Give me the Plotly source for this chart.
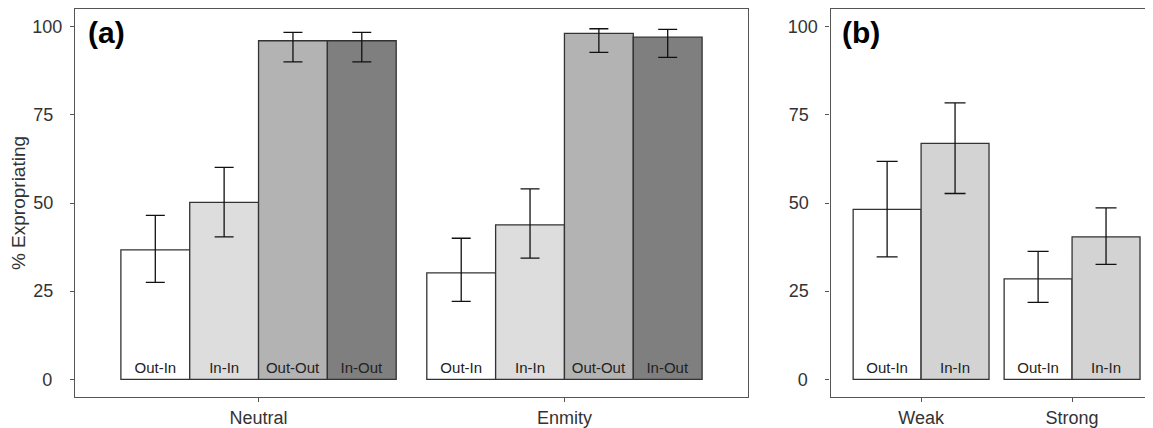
import plotly.graph_objects as go

# ---------------- data ----------------
groups_a = ["Neutral", "Enmity"]
conditions_a = ["Out-In", "In-In", "Out-Out", "In-Out"]
values_a = {
    "Out-In": [36.7, 30.2],
    "In-In": [50.2, 43.8],
    "Out-Out": [96.0, 98.1],
    "In-Out": [96.0, 97.0],
}
upper_a = {
    "Out-In": [46.5, 40.0],
    "In-In": [60.1, 54.0],
    "Out-Out": [98.4, 99.4],
    "In-Out": [98.4, 99.2],
}
lower_a = {
    "Out-In": [27.5, 22.1],
    "In-In": [40.4, 34.4],
    "Out-Out": [90.0, 92.7],
    "In-Out": [90.0, 91.3],
}

groups_b = ["Weak", "Strong"]
conditions_b = ["Out-In", "In-In"]
values_b = {
    "Out-In": [48.2, 28.5],
    "In-In": [66.9, 40.4],
}
upper_b = {
    "Out-In": [61.8, 36.3],
    "In-In": [78.4, 48.6],
}
lower_b = {
    "Out-In": [34.7, 21.8],
    "In-In": [52.7, 32.6],
}

y_ticks = [0, 25, 50, 75, 100]
y_title = "% Expropriating"
panel_labels = ["(a)", "(b)"]

# ---------------- styles ----------------
colors_a = {"Out-In": "#FFFFFF", "In-In": "#DDDDDD", "Out-Out": "#B3B3B3", "In-Out": "#7F7F7F"}
colors_b = {"Out-In": "#FFFFFF", "In-In": "#D3D3D3"}
FONT = "Liberation Sans, Arial, sans-serif"
FRAME = "#555555"
TXT = "#333333"

# the page body has an 8px default margin: shrink the figure to compensate
OFF = 8
W, H = 1153 - OFF, 428 - OFF
ML, MR, MT, MB = 0, 0, 8 - OFF, 428 - 398
dom_a = [(75 - OFF) / W, (748 - OFF) / W]
dom_b = [(830.5 - OFF) / W, 1.0]


def pad_label(s):
    # center-align tick labels (as in the reference) using fixed-width spaces
    n = len(s)
    if n == 1:
        return "\u2007" + s + "\u2007"
    if n == 2:
        return s + "\u2002"
    return s


fig = go.Figure()


def add_bars(groups, conditions, values, upper, lower, colors, xa, ya, capw):
    for c in conditions:
        v = values[c]
        up = [u - a for u, a in zip(upper[c], v)]
        lo = [a - l for a, l in zip(v, lower[c])]
        fig.add_trace(go.Bar(
            x=groups, y=v, name=c,
            xaxis=xa, yaxis=ya,
            marker=dict(color=colors[c], line=dict(color="#333333", width=1.3)),
            error_y=dict(type="data", array=up, arrayminus=lo, visible=True,
                         color="#111111", thickness=1.3, width=capw),
            text=[c] * len(groups),
            textposition="inside", insidetextanchor="start", textangle=0,
            textfont=dict(family=FONT, size=15, color="#222222"),
            constraintext="none",
            showlegend=False,
        ))


add_bars(groups_a, conditions_a, values_a, upper_a, lower_a, colors_a, "x", "y", 9.5)
add_bars(groups_b, conditions_b, values_b, upper_b, lower_b, colors_b, "x2", "y2", 10.5)

common_y = dict(
    range=[-5, 105], tickvals=y_ticks, ticktext=[pad_label(str(t)) for t in y_ticks],
    ticks="outside", ticklen=4, tickcolor=FRAME, tickwidth=1.2,
    showgrid=False, zeroline=False, showline=True, linecolor=FRAME, linewidth=1.3,
    tickfont=dict(family=FONT, size=18, color=TXT), ticklabelstandoff=4,
    domain=[0, 1],
)
common_x = dict(
    type="category",
    ticks="outside", ticklen=4, tickcolor=FRAME, tickwidth=1.2,
    showgrid=False, zeroline=False, showline=True, linecolor=FRAME, linewidth=1.3,
    mirror=True, tickfont=dict(family=FONT, size=18, color=TXT),
)

fig.update_layout(
    width=W, height=H,
    margin=dict(l=ML, r=MR, t=MT, b=MB, pad=0),
    paper_bgcolor="white", plot_bgcolor="white",
    barmode="group", bargap=0.1, bargroupgap=0,
    font=dict(family=FONT),
    xaxis=dict(common_x, domain=dom_a, anchor="y", range=[-0.6, 1.6]),
    yaxis=dict(common_y, anchor="x", mirror=True,
               title=dict(text=y_title, font=dict(family=FONT, size=19, color=TXT), standoff=2)),
    xaxis2=dict(common_x, domain=dom_b, anchor="y2", range=[-0.6, 1.536]),
    yaxis2=dict(common_y, anchor="x2", mirror=False),
    annotations=[
        dict(text="<b>" + panel_labels[0] + "</b>", xref="x domain", yref="y domain",
             x=0.016, y=0.9385, xanchor="left", yanchor="middle", showarrow=False,
             font=dict(family=FONT, size=30, color="black")),
        dict(text="<b>" + panel_labels[1] + "</b>", xref="x2 domain", yref="y2 domain",
             x=0.029, y=0.9385, xanchor="left", yanchor="middle", showarrow=False,
             font=dict(family=FONT, size=30, color="black")),
    ],
)

fig.write_html("out.html")
